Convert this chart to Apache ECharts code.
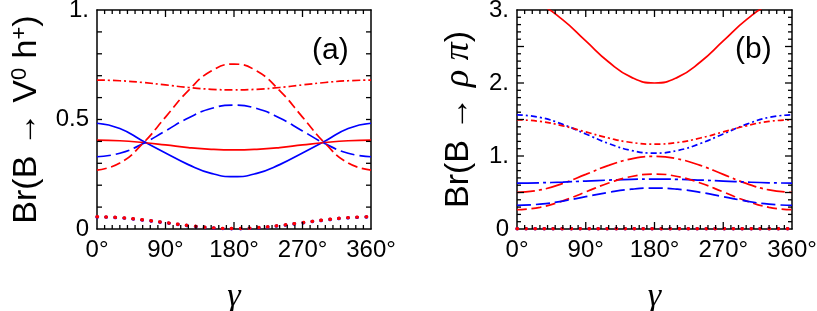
<!DOCTYPE html>
<html>
<head>
<meta charset="utf-8">
<script src="https://cdn.jsdelivr.net/npm/echarts@6/dist/echarts.min.js"></script>
<style>
html,body{margin:0;padding:0;background:#fff;}
#c{width:817px;height:311px;}
</style>
</head>
<body>
<div id="c"></div>
<script>
// ---- data ----
const gamma = [0, 30, 60, 90, 120, 150, 180, 210, 240, 270, 300, 330, 360];

// panel (a): Br(B -> V0 h+)
const aBlueSolid   = [0.483, 0.459, 0.402, 0.347, 0.294, 0.254, 0.239, 0.254, 0.294, 0.347, 0.402, 0.459, 0.483];
const aRedSolid    = [0.406, 0.403, 0.395, 0.384, 0.372, 0.364, 0.361, 0.364, 0.372, 0.384, 0.395, 0.403, 0.406];
const aBlueDash    = [0.330, 0.346, 0.389, 0.448, 0.507, 0.550, 0.566, 0.550, 0.507, 0.448, 0.389, 0.346, 0.330];
const aRedDash     = [0.269, 0.301, 0.390, 0.511, 0.632, 0.721, 0.753, 0.721, 0.632, 0.511, 0.390, 0.301, 0.269];
const aRedDashDot  = [0.680, 0.677, 0.669, 0.658, 0.646, 0.638, 0.635, 0.638, 0.646, 0.658, 0.669, 0.677, 0.680];
const aBlueDot     = [0.055, 0.051, 0.041, 0.028, 0.015, 0.005, 0.001, 0.005, 0.015, 0.028, 0.041, 0.051, 0.055];
const aRedDot      = [0.056, 0.052, 0.042, 0.029, 0.016, 0.006, 0.002, 0.006, 0.016, 0.029, 0.042, 0.052, 0.056];
const aYLabels     = {0: '0', 0.5: '0.5', 1: '1.'};

// panel (b): Br(B -> rho pi)
const bRedSolid    = [3.152, 3.075, 2.864, 2.576, 2.288, 2.077, 2.000, 2.077, 2.288, 2.576, 2.864, 3.075, 3.152];
const bBlueDDot    = [1.564, 1.529, 1.433, 1.302, 1.171, 1.075, 1.040, 1.075, 1.171, 1.302, 1.433, 1.529, 1.564];
const bRedDDot     = [1.496, 1.474, 1.413, 1.330, 1.246, 1.185, 1.163, 1.185, 1.246, 1.330, 1.413, 1.474, 1.496];
const bRedLDot     = [0.502, 0.535, 0.625, 0.748, 0.871, 0.961, 0.994, 0.961, 0.871, 0.748, 0.625, 0.535, 0.502];
const bBlueLDot    = [0.629, 0.633, 0.643, 0.657, 0.670, 0.680, 0.684, 0.680, 0.670, 0.657, 0.643, 0.633, 0.629];
const bRedDash     = [0.264, 0.297, 0.386, 0.508, 0.630, 0.719, 0.752, 0.719, 0.630, 0.508, 0.386, 0.297, 0.264];
const bBlueDash    = [0.324, 0.340, 0.383, 0.443, 0.502, 0.545, 0.561, 0.545, 0.502, 0.443, 0.383, 0.340, 0.324];
const bBlueDot     = [0.003, 0.003, 0.003, 0.003, 0.003, 0.003, 0.003, 0.003, 0.003, 0.003, 0.003, 0.003, 0.003];
const bRedDot      = [0.004, 0.004, 0.004, 0.004, 0.004, 0.004, 0.004, 0.004, 0.004, 0.004, 0.004, 0.004, 0.004];
const bYLabels     = {0: '0', 1: '1.', 2: '2.', 3: '3.'};

// tick marks (axis furniture): x every 10 deg (major every 90), y every 0.1
const xTickStep = 10, xMajorEvery = 9;
const aYTickStep = 0.1, aYMajorEvery = 1;
const bYTickStep = 0.1, bYMajorEvery = 5;

// ---- styling ----
const FONT = '"Liberation Sans", Arial, Helvetica, sans-serif';
const SERIF = '"Liberation Serif", "Times New Roman", serif';
const RED = '#ff0000', BLUE = '#0000ff';
const LW = 1.7;

function pairs(ys) { return gamma.map((g, i) => [g, ys[i]]); }

function xAxisPair(gi) {
  const base = {
    type: 'value', gridIndex: gi, min: 0, max: 360, interval: 90,
    axisLine: {show: true, onZero: false, lineStyle: {color: '#000', width: 1.5}},
    axisTick: {show: false}, minorTick: {show: false},
    splitLine: {show: false}
  };
  return [
    Object.assign({}, base, {
      position: 'bottom',
      axisLabel: {
        show: true, margin: 9, color: '#000', fontFamily: FONT, fontSize: 24,
        formatter: v => v + '°'
      },
      name: 'γ', nameLocation: 'middle', nameGap: 51,
      nameTextStyle: {fontSize: 34, fontFamily: SERIF, fontStyle: 'italic', color: '#000'}
    }),
    Object.assign({}, base, {position: 'top', axisLabel: {show: false}})
  ];
}

function yAxisPair(gi, max, interval, labels, name, rich, gap) {
  const base = {
    type: 'value', gridIndex: gi, min: 0, max: max, interval: interval,
    axisLine: {show: true, onZero: false, lineStyle: {color: '#000', width: 1.5}},
    axisTick: {show: false}, minorTick: {show: false},
    splitLine: {show: false}
  };
  return [
    Object.assign({}, base, {
      position: 'left',
      axisLabel: {
        show: true, margin: 8, color: '#000', fontSize: 24, fontFamily: FONT,
        formatter: v => {
          const k = Math.round(v * 10) / 10;
          return labels[k] !== undefined ? labels[k] : '';
        }
      },
      name: name, nameLocation: 'middle', nameRotate: 90, nameGap: gap,
      nameTextStyle: {fontSize: 34, fontFamily: FONT, color: '#000', rich: rich}
    }),
    Object.assign({}, base, {position: 'right', axisLabel: {show: false}})
  ];
}

// tick marks drawn as small filled rects through the axes' own scales (api.coord)
function tickSeries(xi, yi, ymax, yStep, yMajorEvery, yMajorLen, yMinorLen) {
  return {
    type: 'custom', xAxisIndex: xi, yAxisIndex: yi, data: [[0, 0]],
    silent: true, clip: false, z: 10, animation: false,
    renderItem: function (params, api) {
      const p0 = api.coord([0, 0]), p1 = api.coord([360, ymax]);
      const bottom = p0[1], top = p1[1], left = p0[0], right = p1[0];
      const W = 1.3;
      const ch = [];
      const box = (x, y, w, h) => ({type: 'rect', shape: {x: x, y: y, width: w, height: h}, style: {fill: '#000', stroke: null}});
      const nx = Math.round(360 / xTickStep);
      for (let i = 1; i < nx; i++) {
        const x = api.coord([i * xTickStep, 0])[0];
        const len = (i % xMajorEvery === 0) ? 7 : 4;
        ch.push(box(x - W / 2, bottom - len, W, len));
        ch.push(box(x - W / 2, top, W, len));
      }
      const ny = Math.round(ymax / yStep);
      for (let j = 1; j < ny; j++) {
        const y = api.coord([0, j * yStep])[1];
        const len = (j % yMajorEvery === 0) ? yMajorLen : yMinorLen;
        ch.push(box(left, y - W / 2, len, W));
        ch.push(box(right - len, y - W / 2, len, W));
      }
      return {type: 'group', children: ch};
    }
  };
}

const richA = {
  m: {fontSize: 34, fontFamily: FONT, color: '#000'},
  s: {fontSize: 22, fontFamily: FONT, color: '#000', verticalAlign: 'top', padding: [0, 0, 14, 0]}
};
const richB = {
  m: {fontSize: 34, fontFamily: FONT, color: '#000'},
  g: {fontSize: 36, fontFamily: SERIF, fontStyle: 'italic', color: '#000'}
};

function line(xi, yi, data, color, type, width, cap) {
  return {
    type: 'line', xAxisIndex: xi, yAxisIndex: yi, data: pairs(data),
    showSymbol: false, smooth: 0.5, clip: true, silent: true, animation: false,
    lineStyle: {color: color, width: width || LW, type: type || 'solid', cap: cap || 'butt'}
  };
}

const DOT = [0.5, 8.5];
const option = {
  animation: false,
  backgroundColor: '#fff',
  grid: [
    {left: 97, top: 10, width: 274, height: 219, outerBoundsMode: 'none'},
    {left: 517, top: 10, width: 275, height: 219, outerBoundsMode: 'none'}
  ],
  xAxis: [].concat(xAxisPair(0), xAxisPair(1)),
  yAxis: [].concat(
    yAxisPair(0, 1, 0.1, aYLabels, '{m|Br(B → V}{s|0}{m| h}{s|+}{m|)}', richA, 52),
    yAxisPair(1, 3, 0.5, bYLabels, '{m|Br(B → }{g|ρ}{m| }{g|π}{m|)}', richB, 40)
  ),
  graphic: [
    {type: 'text', left: 312, top: 36, style: {text: '(a)', fontSize: 30, fontFamily: FONT, fill: '#000'}},
    {type: 'text', left: 735, top: 35, style: {text: '(b)', fontSize: 30, fontFamily: FONT, fill: '#000'}}
  ],
  series: [
    tickSeries(0, 0, 1, aYTickStep, aYMajorEvery, 5, 5),
    tickSeries(2, 2, 3, bYTickStep, bYMajorEvery, 7, 4),

    line(0, 0, aBlueDot, BLUE, DOT, 3.4, 'round'),
    line(0, 0, aRedDot, RED, DOT, 3.4, 'round'),
    line(0, 0, aBlueSolid, BLUE),
    line(0, 0, aRedSolid, RED),
    line(0, 0, aBlueDash, BLUE, [14, 5]),
    line(0, 0, aRedDash, RED, [10, 4.5]),
    line(0, 0, aRedDashDot, RED, [8, 3, 2, 3]),

    line(2, 2, bBlueDot, BLUE, DOT, 3.4, 'round'),
    line(2, 2, bRedDot, RED, DOT, 3.4, 'round'),
    line(2, 2, bRedSolid, RED),
    line(2, 2, bBlueDDot, BLUE, [6, 3, 2, 3]),
    line(2, 2, bRedDDot, RED, [6, 3, 2, 3]),
    line(2, 2, bRedLDot, RED, [18, 4, 3, 4]),
    line(2, 2, bBlueLDot, BLUE, [22, 4, 3, 4]),
    line(2, 2, bRedDash, RED, [10, 4.5]),
    line(2, 2, bBlueDash, BLUE, [14, 5])
  ]
};

const chart = echarts.init(document.getElementById('c'), null, {renderer: 'canvas'});
chart.setOption(option);
</script>
</body>
</html>
